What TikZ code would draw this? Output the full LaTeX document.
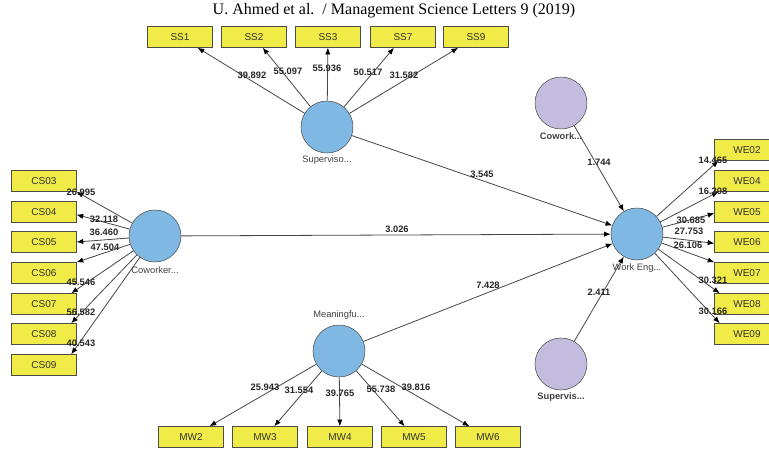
\documentclass[tikz,border=0pt]{standalone}
\usepackage{fontspec}
\setmainfont{Liberation Sans}
\newfontfamily\headfont{Liberation Serif}
\usetikzlibrary{arrows.meta}
\definecolor{boxyellow}{RGB}{240,235,70}
\definecolor{lvblue}{RGB}{128,184,228}
\definecolor{lvpurple}{RGB}{196,188,222}
\definecolor{edgegray}{RGB}{70,70,70}
\tikzstyle{item-node}=[fill=boxyellow,draw=black!70,rectangle,minimum width=48.5pt,minimum height=15.75pt,inner sep=0pt,text=black!80,font=\fontsize{7.5}{8}\selectfont]
\tikzstyle{latent-node}=[fill=lvblue,circle,draw=black!70,minimum size=39pt,inner sep=0pt]
\tikzstyle{control-node}=[fill=lvpurple,circle,draw=black!70,minimum size=39pt,inner sep=0pt]
\tikzstyle{name-node}=[inner sep=0pt,text=black!75,font=\fontsize{7}{8}\selectfont]
\tikzstyle{weight-node}=[inner sep=0pt,text=black!85,font=\bfseries\fontsize{7}{8}\selectfont]
\tikzstyle{gray-line}=[draw=edgegray,line width=0.6pt]

\begin{document}
\begin{tikzpicture}[x=0.75pt,y=-0.75pt]
	\clip (0,0) rectangle (769,450);
	\node (title)[font=\headfont\fontsize{12}{14}\selectfont] at (394,11) {U. Ahmed et al.~~/ Management Science Letters 9 (2019)};

	\begin{scope}
	% constructs
	\node (sup)[latent-node] at (327,127) {};
	\node (cow)[latent-node] at (155,236) {};
	\node (mea)[latent-node] at (339,351) {};
	\node (wen)[latent-node] at (637,234) {};
	\node (cwk)[control-node] at (561,103) {};
	\node (spv)[control-node] at (561,364) {};

	\node (sup-name)[name-node] at (327,160) {Superviso...};
	\node (cow-name)[name-node] at (155,270) {Coworker...};
	\node (mea-name)[name-node] at (339,315) {Meaningfu...};
	\node (wen-name)[name-node] at (637,268) {Work Eng...};
	\node (cwk-name)[name-node,font=\bfseries\fontsize{7}{8}\selectfont] at (561,136) {Cowork...};
	\node (spv-name)[name-node,font=\bfseries\fontsize{7}{8}\selectfont] at (561,397) {Supervis...};
	\end{scope}

	\begin{scope}
	% indicators
	\node (ss1)[item-node] at (180,37) {SS1};
	\node (ss2)[item-node] at (254,37) {SS2};
	\node (ss3)[item-node] at (328,37) {SS3};
	\node (ss7)[item-node] at (403,37) {SS7};
	\node (ss9)[item-node] at (476,37) {SS9};

	\node (cs3)[item-node] at (44,181) {CS03};
	\node (cs4)[item-node] at (44,212) {CS04};
	\node (cs5)[item-node] at (44,242) {CS05};
	\node (cs6)[item-node] at (44,273) {CS06};
	\node (cs7)[item-node] at (44,304) {CS07};
	\node (cs8)[item-node] at (44,334) {CS08};
	\node (cs9)[item-node] at (44,365) {CS09};

	\node (we2)[item-node] at (747,150) {WE02};
	\node (we4)[item-node] at (747,181) {WE04};
	\node (we5)[item-node] at (747,212) {WE05};
	\node (we6)[item-node] at (747,242) {WE06};
	\node (we7)[item-node] at (747,273) {WE07};
	\node (we8)[item-node] at (747,304) {WE08};
	\node (we9)[item-node] at (747,334) {WE09};

	\node (mw2)[item-node] at (191,437) {MW2};
	\node (mw3)[item-node] at (265,437) {MW3};
	\node (mw4)[item-node] at (340,437) {MW4};
	\node (mw5)[item-node] at (414,437) {MW5};
	\node (mw6)[item-node] at (488,437) {MW6};
	\end{scope}

	\begin{scope}[>={Latex[black,length=5pt,width=4pt]}, every edge/.style=gray-line]
	\path [->] (sup) edge (ss1);
	\path [->] (sup) edge (ss2);
	\path [->] (sup) edge (ss3);
	\path [->] (sup) edge (ss7);
	\path [->] (sup) edge (ss9);

	\path [->] (cow) edge (cs3.south east);
	\path [->] (cow) edge ([yshift=-2pt]cs4.east);
	\path [->] (cow) edge (cs5.east);
	\path [->] (cow) edge (cs6.north east);
	\path [->] (cow) edge ([xshift=-4pt]cs7.north east);
	\path [->] (cow) edge ([xshift=-4pt]cs8.north east);
	\path [->] (cow) edge ([xshift=-4pt]cs9.north east);

	\path [->] (wen) edge ([xshift=3pt]we2.south west);
	\path [->] (wen) edge ([xshift=3pt]we4.south west);
	\path [->] (wen) edge ([yshift=-1pt]we5.west);
	\path [->] (wen) edge ([yshift=-1pt]we6.west);
	\path [->] (wen) edge (we7.north west);
	\path [->] (wen) edge ([xshift=4pt]we8.north west);
	\path [->] (wen) edge ([xshift=4pt]we9.north west);

	\path [->] (mea) edge (mw2);
	\path [->] (mea) edge (mw3);
	\path [->] (mea) edge (mw4);
	\path [->] (mea) edge (mw5);
	\path [->] (mea) edge (mw6);

	\path [->] (sup) edge (wen);
	\path [->] (cow) edge (wen);
	\path [->] (mea) edge (wen);
	\path [->] (cwk) edge (wen);
	\path [->] (spv) edge (wen);
	\end{scope}

	\begin{scope}
	% path coefficients
	\node (w-ss1)[weight-node] at (252,75) {39.892};
	\node (w-ss2)[weight-node] at (288,71) {55.097};
	\node (w-ss3)[weight-node] at (327,68) {55.936};
	\node (w-ss7)[weight-node] at (368,72) {50.517};
	\node (w-ss9)[weight-node] at (404,75) {31.582};

	\node (w-cs3)[weight-node] at (81,192) {26.995};
	\node (w-cs4)[weight-node] at (104,219) {32.118};
	\node (w-cs5)[weight-node] at (104,232) {36.460};
	\node (w-cs6)[weight-node] at (105,247) {47.504};
	\node (w-cs7)[weight-node] at (81,282) {45.546};
	\node (w-cs8)[weight-node] at (81,312) {56.582};
	\node (w-cs9)[weight-node] at (81,343) {40.543};

	\node (w-we2)[weight-node] at (713,160) {14.465};
	\node (w-we4)[weight-node] at (713,191) {16.208};
	\node (w-we5)[weight-node] at (691,220) {30.685};
	\node (w-we6)[weight-node] at (689,231) {27.753};
	\node (w-we7)[weight-node] at (688,245) {26.106};
	\node (w-we8)[weight-node] at (713,280) {30.321};
	\node (w-we9)[weight-node] at (713,311) {30.166};

	\node (w-mw2)[weight-node] at (265,387) {25.943};
	\node (w-mw3)[weight-node] at (299,390) {31.554};
	\node (w-mw4)[weight-node] at (340,393) {39.765};
	\node (w-mw5)[weight-node] at (381,389) {55.738};
	\node (w-mw6)[weight-node] at (416,387) {39.816};

	\node (w-sup)[weight-node] at (482,174) {3.545};
	\node (w-cow)[weight-node] at (397,229) {3.026};
	\node (w-mea)[weight-node] at (488,285) {7.428};
	\node (w-cwk)[weight-node] at (599,162) {1.744};
	\node (w-spv)[weight-node] at (599,292) {2.411};
	\end{scope}
\end{tikzpicture}
\end{document}
